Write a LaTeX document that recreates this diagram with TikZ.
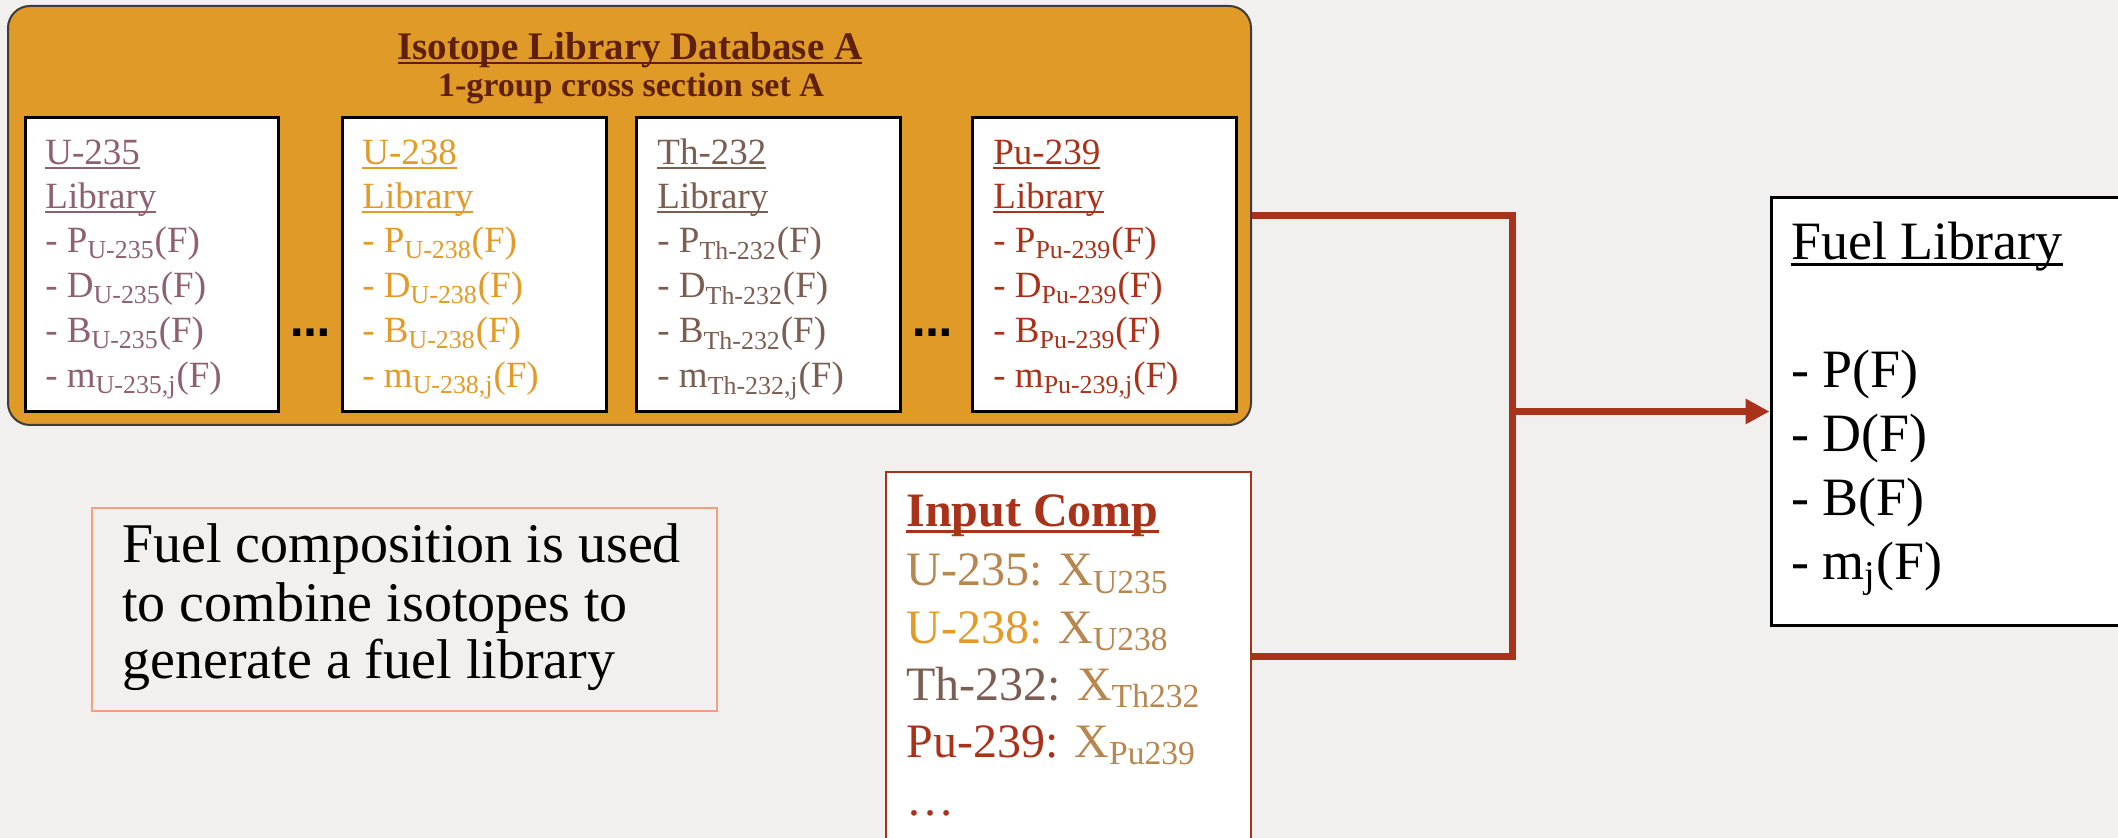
\documentclass[tikz,border=0pt]{standalone}
\usepackage{fontspec}
\setmainfont{Liberation Serif}
\newfontfamily\dotfont{DejaVu Sans}
\usetikzlibrary{arrows.meta,fit}

\definecolor{paper}{HTML}{F1F0EF}
\definecolor{dbfill}{HTML}{E09A28}
\definecolor{dbedge}{HTML}{3C3C3C}
\definecolor{titlebrown}{HTML}{5E1F0B}
\definecolor{cUa}{HTML}{8E6070}
\definecolor{cUb}{HTML}{E39B27}
\definecolor{cTh}{HTML}{7B5D51}
\definecolor{cPu}{HTML}{A9331A}
\definecolor{tan}{HTML}{B8864F}
\definecolor{salmon}{HTML}{F4A080}

% underline set close to the baseline, as a word processor draws it
\newcommand\ulx[1]{\setbox0=\hbox{#1}\rlap{\rule[-0.115em]{\wd0}{0.06em}}\box0}

\tikzset{
  isobox/.style={draw=black, line width=1.5pt, fill=white, inner sep=0pt},
  line/.style={anchor=base west, inner sep=0pt},
  isotxt/.style={line, font=\fontsize{18.5pt}{22pt}\selectfont},
  comptxt/.style={line, font=\fontsize{24pt}{28pt}\selectfont},
  fueltxt/.style={line, font=\fontsize{27pt}{32pt}\selectfont},
  notetxt/.style={line, font=\fontsize{28pt}{32pt}\selectfont},
  ellip/.style={anchor=base, inner sep=0pt, font=\dotfont\bfseries\fontsize{20pt}{20pt}\selectfont},
  link/.style={draw=cPu, line width=3.5pt, line join=miter},
}

% text lines of one isotope library box: name, left x, colour, isotope
\newcommand\isolines[4]{%
  \node[isotxt, text=#3] (#1-a) at (#2,165) {\ulx{#4}};
  \node[isotxt, text=#3] (#1-b) at (#2,209) {\ulx{Library}};
  \node[isotxt, text=#3] (#1-c) at (#2,253) {- P\textsubscript{#4}(F)};
  \node[isotxt, text=#3] (#1-d) at (#2,298) {- D\textsubscript{#4}(F)};
  \node[isotxt, text=#3] (#1-e) at (#2,343) {- B\textsubscript{#4}(F)};
  \node[isotxt, text=#3] (#1-f) at (#2,388) {- m\textsubscript{#4,j}(F)};
}

\begin{document}
\begin{tikzpicture}[x=0.5pt, y=-0.5pt]
  \path[fill=paper] (0,0) rectangle (2118,838);
  \useasboundingbox (0,0) rectangle (2118,838);

  % isotope database
  \node[fit={(8,6) (1251,425)}, inner sep=0pt, draw=dbedge, line width=1pt,
        fill=dbfill, rounded corners=11pt] (db) {};
  \node[anchor=base, inner sep=0pt, text=titlebrown,
        font=\bfseries\fontsize{19.5pt}{22pt}\selectfont] (title) at (630,60)
        {\ulx{Isotope Library Database A}};
  \node[anchor=base, inner sep=0pt, text=titlebrown,
        font=\bfseries\fontsize{17pt}{20pt}\selectfont] (subtitle) at (631,97)
        {1-group cross section set A};

  \node[isobox, fit={(25,118) (278,412)}] (bUa) {};
  \node[isobox, fit={(342,118) (606,412)}] (bUb) {};
  \node[isobox, fit={(636,118) (900,412)}] (bTh) {};
  \node[isobox, fit={(972,118) (1236,412)}] (bPu) {};

  \isolines{tUa}{45}{cUa}{U-235}
  \isolines{tUb}{362}{cUb}{U-238}
  \isolines{tTh}{657}{cTh}{Th-232}
  \isolines{tPu}{993}{cPu}{Pu-239}

  \node[ellip] (dotsA) at (310,337) {…};
  \node[ellip] (dotsB) at (932,337) {…};

  % fuel composition input
  \node[fit={(886,472) (1251,840)}, inner sep=0pt, draw=cPu, line width=1pt,
        fill=white] (input) {};
  \node[comptxt, text=cPu] (inA) at (906,527) {\textbf{\ulx{Input Comp}}};
  \node[comptxt, text=tan] (inB) at (906,586) {U-235: X\textsubscript{U235}};
  \node[comptxt] (inC) at (906,643) {\textcolor{cUb}{U-238:} \textcolor{tan}{X\textsubscript{U238}}};
  \node[comptxt] (inD) at (906,700) {\textcolor{cTh}{Th-232:} \textcolor{tan}{X\textsubscript{Th232}}};
  \node[comptxt] (inE) at (906,757) {\textcolor{cPu}{Pu-239:} \textcolor{tan}{X\textsubscript{Pu239}}};
  \node[comptxt, text=cPu] (inF) at (906,815) {…};

  % resulting fuel library
  \node[fit={(1771,198) (2140,625)}, inner sep=0pt, draw=black, line width=1.5pt,
        fill=white] (fuel) {};
  \node[fueltxt] (fA) at (1791,260) {\ulx{Fuel Library}};
  \node[fueltxt] (fB) at (1791,388) {- P(F)};
  \node[fueltxt] (fC) at (1791,452) {- D(F)};
  \node[fueltxt] (fD) at (1791,516) {- B(F)};
  \node[fueltxt] (fE) at (1791,580) {- m\textsubscript{j}(F)};

  % explanatory note
  \node[fit={(92,508) (717,711)}, inner sep=0pt, draw=salmon, line width=1pt] (note) {};
  \node[notetxt] (nA) at (122,563) {Fuel composition is used};
  \node[notetxt] (nB) at (122,622) {to combine isotopes to};
  \node[notetxt] (nC) at (122,678) {generate a fuel library};

  % connectors
  \coordinate (jx) at (1512,0);
  \draw[link] (db.east) -| (jx |- input.east) -- (input.east);
  \draw[link, -{Triangle[length=12pt, width=12pt]}] (jx |- fuel.west) -- (fuel.west);
\end{tikzpicture}
\end{document}
